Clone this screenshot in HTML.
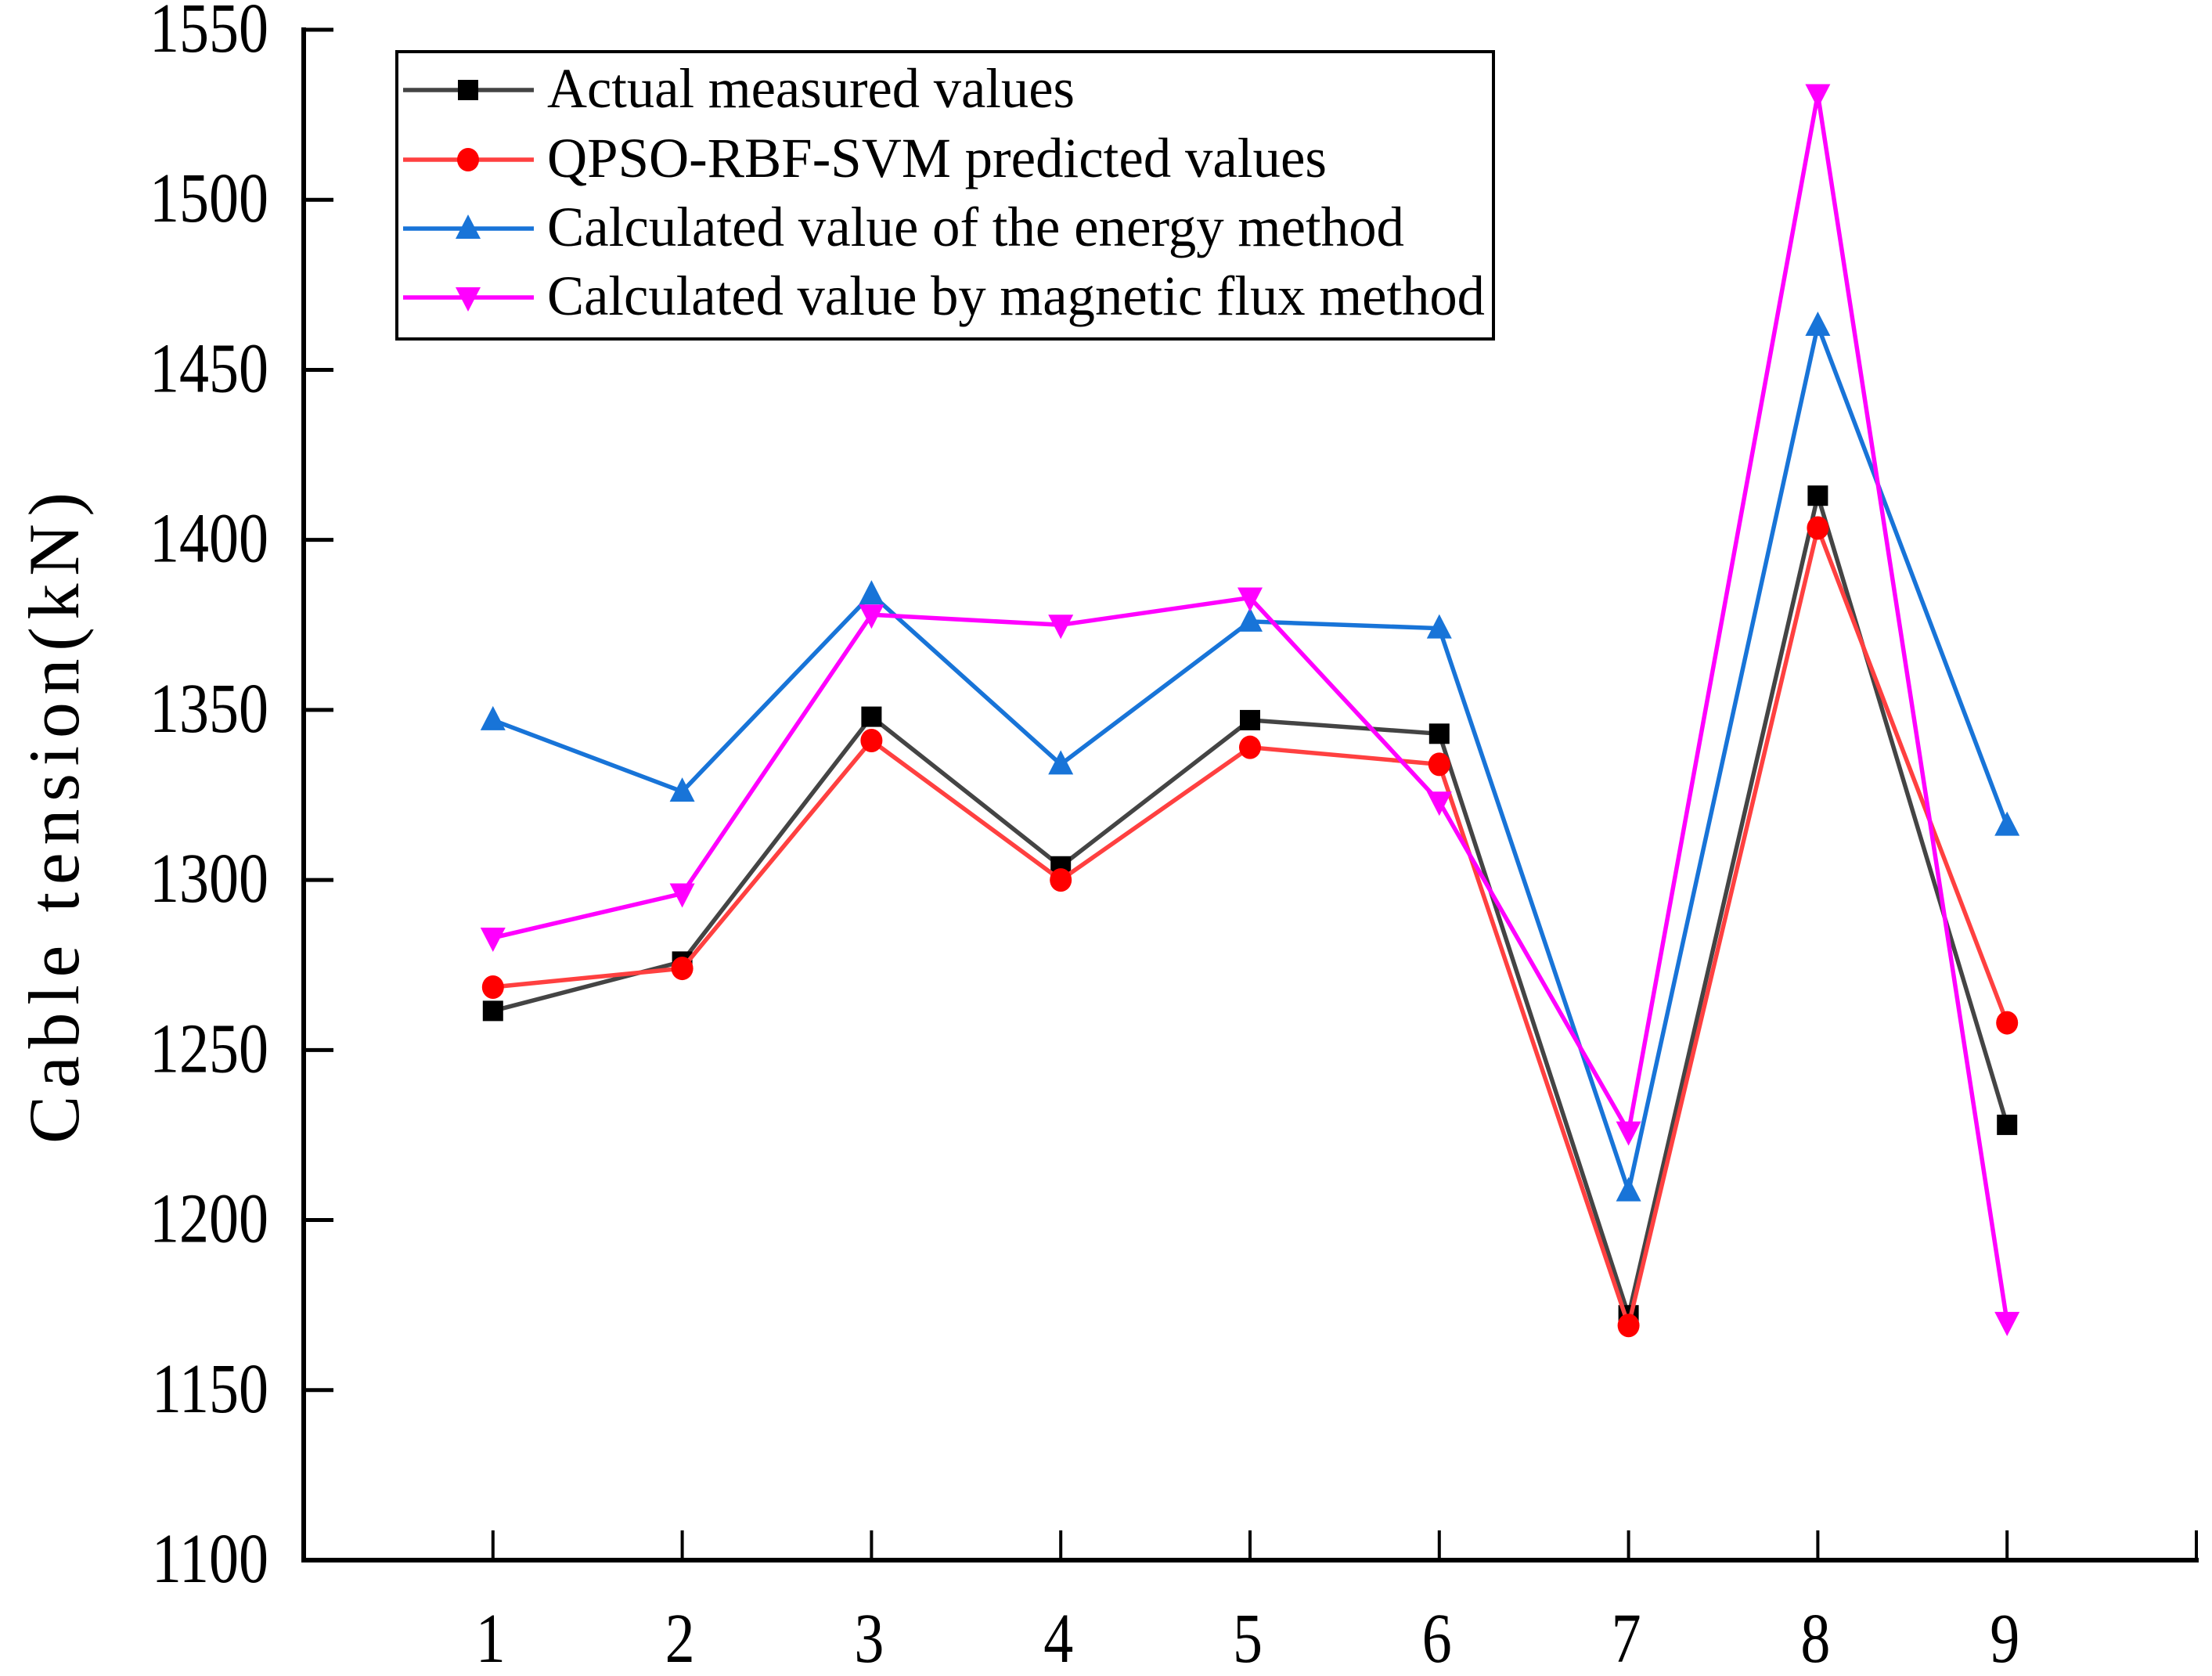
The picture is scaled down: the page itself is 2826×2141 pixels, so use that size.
<!DOCTYPE html>
<html><head><meta charset="utf-8"><style>html,body{margin:0;padding:0;background:#fff}svg{display:block}</style></head>
<body>
<svg id="chart" width="2826" height="2141" viewBox="0 0 2826 2141" xmlns="http://www.w3.org/2000/svg" font-family="Liberation Serif, serif">
<g id="axes"></g>
<g id="series"></g>
<g id="legend"></g>
</svg>
<script>
const categories = [1,2,3,4,5,6,7,8,9];
const actualValues = [1261.5,1276,1348,1304,1347,1343,1172,1413,1228];
const predictedValues = [1268.5,1274,1341,1300,1339,1334,1169,1403.5,1258];
const energyValues = [1347,1326,1384,1334,1376,1374,1208.5,1463,1316];
const fluxValues = [1283,1296,1378,1375,1383,1323,1226,1531,1170];
const yTicks = [1100,1150,1200,1250,1300,1350,1400,1450,1500,1550];
const seriesNames = ["Actual measured values","QPSO-RBF-SVM predicted values","Calculated value of the energy method","Calculated value by magnetic flux method"];

const NS = "http://www.w3.org/2000/svg";
const L = 388, R = 2806, T = 38, B = 1993;
const xS = v => L + (v - 0) / 10 * (R - L);
const yS = v => B - (v - 1100) / 450 * (B - T);
function mk(tag, attrs, parent) {
  const e = document.createElementNS(NS, tag);
  for (const k in attrs) e.setAttribute(k, attrs[k]);
  parent.appendChild(e);
  return e;
}
const axes = document.getElementById('axes');
const ser = document.getElementById('series');
const leg = document.getElementById('legend');

let yAxis = mk('line', {x1:L, y1:T-3, x2:L, y2:B+3, stroke:'#000', 'stroke-width':6}, axes);


let xAxis = mk('line', {x1:L-3, y1:B, x2:R+3, y2:B, stroke:'#000', 'stroke-width':6}, axes);



yTicks.forEach(v => {
  const y = yS(v);
  let t = mk('line', {x1:L, y1:y, x2:L+38, y2:y, stroke:'#000', 'stroke-width':5}, axes);
  
  
  let tx = mk('text', {x:0, y:0, 'text-anchor':'end', 'font-size':76, fill:'#000', transform:`translate(343,${y+28}) scale(1,1.18)`}, axes);
  tx.textContent = v;
  
  
});
for (let i = 1; i <= 10; i++) {
  const x = xS(i);
  let t = mk('line', {x1:x, y1:B, x2:x, y2:B-38, stroke:'#000', 'stroke-width':4}, axes);
  
  
}
categories.forEach(c => {
  let tx = mk('text', {x:0, y:0, 'text-anchor':'middle', 'font-size':76, fill:'#000', transform:`translate(${xS(c)-3},2123) scale(1,1.18)`}, axes);
  tx.textContent = c;
  
  
});
let yt = mk('text', {x:0, y:0, 'font-size':92, fill:'#000', transform:'translate(100,1461) rotate(-90)', textLength:832, lengthAdjust:'spacing'}, axes);
yt.textContent = 'Cable tension(kN)';



function marker(type, x, y, color, parent) {
  let m;
  if (type === 'square') m = mk('rect', {x:x-13, y:y-13, width:26, height:26, fill:color}, parent);
  else if (type === 'circle') m = mk('ellipse', {cx:x, cy:y, rx:14, ry:15, fill:color}, parent);
  else if (type === 'up') m = mk('polygon', {points:`${x},${y-18} ${x-16},${y+13} ${x+16},${y+13}`, fill:color}, parent);
  else m = mk('polygon', {points:`${x},${y+18} ${x-16},${y-13} ${x+16},${y-13}`, fill:color}, parent);
  return m;
}
const seriesDefs = [
  {vals:actualValues, line:'#444444', mcol:'#000000', type:'square', name:'actual'},
  {vals:predictedValues, line:'#ff4040', mcol:'#ff0000', type:'circle', name:'predicted'},
  {vals:energyValues, line:'#1874d8', mcol:'#1874d8', type:'up', name:'energy'},
  {vals:fluxValues, line:'#ff00ff', mcol:'#ff00ff', type:'down', name:'flux'}
];
seriesDefs.forEach(s => {
  const g = mk('g', {}, ser);
  
  
  const pts = s.vals.map((v, i) => xS(categories[i]) + ',' + yS(v)).join(' ');
  let pl = mk('polyline', {points:pts, fill:'none', stroke:s.line, 'stroke-width':5.5, 'stroke-linejoin':'miter'}, g);
  
  
  s.vals.forEach((v, i) => {
    let m = marker(s.type, xS(categories[i]), yS(v), s.mcol, g);
    
    
  });
});

let box = mk('rect', {x:507, y:66, width:1401, height:367, fill:'#fff', stroke:'#000', 'stroke-width':4}, leg);


const rowsY = [115, 204, 292, 380];
const legendWidths = [674, 996, 1095, 1198];
seriesDefs.forEach((s, i) => {
  const g = mk('g', {}, leg);
  
  
  const y = rowsY[i];
  mk('line', {x1:515, y1:y, x2:682, y2:y, stroke:s.line, 'stroke-width':5.5}, g);
  marker(s.type, 598, y, s.mcol, g);
  let tx = mk('text', {x:0, y:0, 'font-size':60, fill:'#000', transform:`translate(699,${y+22}) scale(1,1.2)`, textLength:legendWidths[i], lengthAdjust:'spacingAndGlyphs'}, g);
  tx.textContent = seriesNames[i];
});
</script>
</body></html>
